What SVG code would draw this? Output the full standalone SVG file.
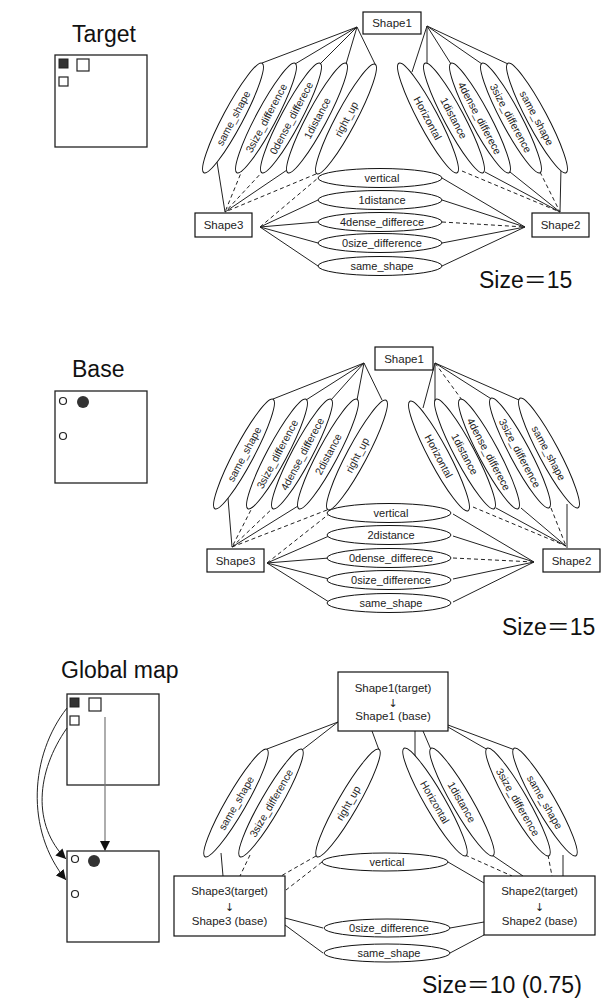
<svg xmlns="http://www.w3.org/2000/svg" width="603" height="998" viewBox="0 0 603 998">
<style>
.t{font-family:"Liberation Sans",Arial,"Noto Sans CJK JP",sans-serif;fill:#222}
.title{font-size:23px;fill:#111}
.lbl{font-size:10.5px;text-anchor:middle;dominant-baseline:central}
.hl{font-size:11px;text-anchor:middle;dominant-baseline:central}
.sh{font-size:11.5px;text-anchor:middle}
.gs{font-size:11.5px;text-anchor:middle}
.ar{font-family:"DejaVu Sans",sans-serif;font-size:11px;text-anchor:middle;fill:#222}
.box{fill:#fff;stroke:#111;stroke-width:1.2}
.el{fill:#fff;stroke:#111;stroke-width:1}
.c{stroke:#222;stroke-width:1;fill:none}
.d{stroke-dasharray:4 3}
.fr{fill:#fff;stroke:#222;stroke-width:1.3}
</style>
<defs>
<marker id="ah" viewBox="0 0 10 10" refX="10" refY="5" markerWidth="10" markerHeight="10" markerUnits="userSpaceOnUse" orient="auto"><path d="M0,0 L10,5 L0,10 z" fill="#111"/></marker>
</defs>
<rect width="603" height="998" fill="#fff"/>

<!-- ===== Section 1: Target ===== -->
<g id="target-pic">
<text class="t title" x="72" y="42">Target</text>
<rect class="fr" x="55" y="55" width="92" height="92"/>
<rect x="59" y="59" width="9" height="9" fill="#333" stroke="#222"/>
<rect x="77" y="59" width="12" height="12" fill="#fff" stroke="#222" stroke-width="1.2"/>
<rect x="59" y="77" width="9" height="9" fill="#fff" stroke="#222" stroke-width="1.2"/>
</g>

<g id="t-connectors">
<line class="c" x1="357" y1="27" x2="262" y2="63"/>
<line class="c" x1="357" y1="27" x2="295" y2="64"/>
<line class="c" x1="357" y1="27" x2="320" y2="64"/>
<line class="c" x1="357" y1="27" x2="346" y2="64"/>
<line class="c" x1="357" y1="27" x2="375" y2="64"/>
<line class="c" x1="217" y1="162" x2="225" y2="212"/>
<line class="c d" x1="243" y1="168" x2="225" y2="212"/>
<line class="c d" x1="264" y1="170" x2="225" y2="212"/>
<line class="c" x1="287" y1="170" x2="225" y2="212"/>
<line class="c d" x1="316" y1="174" x2="225" y2="212"/>
<line class="c d" x1="260" y1="227" x2="318" y2="178"/>
<line class="c" x1="260" y1="227" x2="318" y2="200"/>
<line class="c" x1="260" y1="227" x2="318" y2="222"/>
<line class="c" x1="260" y1="227" x2="318" y2="243"/>
<line class="c" x1="260" y1="227" x2="318" y2="266"/>
<line class="c" x1="442" y1="178" x2="525" y2="227"/>
<line class="c" x1="442" y1="200" x2="525" y2="227"/>
<line class="c d" x1="442" y1="222" x2="525" y2="227"/>
<line class="c" x1="442" y1="243" x2="525" y2="227"/>
<line class="c" x1="442" y1="266" x2="525" y2="227"/>
<line class="c" x1="427" y1="26" x2="412" y2="72"/>
<line class="c" x1="427" y1="26" x2="427" y2="66"/>
<line class="c" x1="427" y1="26" x2="451" y2="64"/>
<line class="c" x1="427" y1="26" x2="482" y2="64"/>
<line class="c" x1="427" y1="26" x2="508" y2="64"/>
<line class="c d" x1="462" y1="171" x2="560" y2="212"/>
<line class="c" x1="485" y1="172" x2="560" y2="212"/>
<line class="c" x1="510" y1="172" x2="560" y2="212"/>
<line class="c d" x1="540" y1="172" x2="560" y2="212"/>
<line class="c" x1="561" y1="168" x2="560" y2="212"/>
</g>

<g id="t-shape1"><rect class="box" x="363" y="12" width="58" height="22"/><text class="t sh" x="392" y="27">Shape1</text></g>
<g id="t-shape3"><rect class="box" x="195" y="213" width="57" height="24"/><text class="t sh" x="223.5" y="229">Shape3</text></g>
<g id="t-shape2"><rect class="box" x="532" y="213" width="57" height="24"/><text class="t sh" x="560.5" y="229">Shape2</text></g>

<g id="t-l1" transform="translate(233,118) rotate(-62)"><ellipse class="el" rx="62" ry="10"/><text class="t lbl">same_shape</text></g>
<g id="t-l2" transform="translate(266,118) rotate(-62)"><ellipse class="el" rx="62" ry="10"/><text class="t lbl">3size_difference</text></g>
<g id="t-l3" transform="translate(291,118) rotate(-62)"><ellipse class="el" rx="62" ry="10"/><text class="t lbl">0dense_differece</text></g>
<g id="t-l4" transform="translate(317,118) rotate(-62)"><ellipse class="el" rx="62" ry="10"/><text class="t lbl">1distance</text></g>
<g id="t-l5" transform="translate(346,119) rotate(-62)"><ellipse class="el" rx="62" ry="10"/><text class="t lbl">right_up</text></g>

<g id="t-r1" transform="translate(428,118) rotate(62)"><ellipse class="el" rx="62" ry="10"/><text class="t lbl">Horizontal</text></g>
<g id="t-r2" transform="translate(454,118) rotate(62)"><ellipse class="el" rx="62" ry="10"/><text class="t lbl">1distance</text></g>
<g id="t-r3" transform="translate(480,118) rotate(62)"><ellipse class="el" rx="62" ry="10"/><text class="t lbl">4dense_differece</text></g>
<g id="t-r4" transform="translate(511,118) rotate(62)"><ellipse class="el" rx="62" ry="10"/><text class="t lbl">3size_difference</text></g>
<g id="t-r5" transform="translate(537,118) rotate(62)"><ellipse class="el" rx="62" ry="10"/><text class="t lbl">same_shape</text></g>

<g id="t-h1"><ellipse class="el" cx="380" cy="178" rx="62" ry="9.5"/><text class="t hl" x="382" y="178">vertical</text></g>
<g id="t-h2"><ellipse class="el" cx="380" cy="200" rx="62" ry="9.5"/><text class="t hl" x="382" y="200">1distance</text></g>
<g id="t-h3"><ellipse class="el" cx="380" cy="222" rx="62" ry="9.5"/><text class="t hl" x="382" y="222">4dense_differece</text></g>
<g id="t-h4"><ellipse class="el" cx="380" cy="243" rx="62" ry="9.5"/><text class="t hl" x="382" y="243">0size_difference</text></g>
<g id="t-h5"><ellipse class="el" cx="380" cy="266" rx="62" ry="9.5"/><text class="t hl" x="382" y="266">same_shape</text></g>

<text class="t title" x="479" y="288">Size＝15</text>

<!-- ===== Section 2: Base ===== -->
<g id="base-pic">
<text class="t title" x="72" y="377">Base</text>
<rect class="fr" x="55" y="391" width="92" height="92"/>
<circle cx="63" cy="401" r="3.5" fill="#fff" stroke="#222" stroke-width="1.2"/>
<circle cx="83" cy="402" r="6" fill="#333"/>
<circle cx="63" cy="436" r="3.5" fill="#fff" stroke="#222" stroke-width="1.2"/>
</g>

<g transform="translate(11,336)">
<g id="b-connectors">
<line class="c" x1="353" y1="27" x2="262" y2="63"/>
<line class="c" x1="353" y1="27" x2="295" y2="64"/>
<line class="c" x1="353" y1="27" x2="320" y2="64"/>
<line class="c" x1="353" y1="27" x2="346" y2="64"/>
<line class="c" x1="353" y1="27" x2="371" y2="64"/>
<line class="c" x1="217" y1="162" x2="221" y2="211"/>
<line class="c d" x1="243" y1="168" x2="221" y2="211"/>
<line class="c d" x1="264" y1="170" x2="221" y2="211"/>
<line class="c" x1="287" y1="170" x2="221" y2="211"/>
<line class="c d" x1="316" y1="174" x2="221" y2="211"/>
<line class="c d" x1="256" y1="227" x2="318" y2="178"/>
<line class="c" x1="256" y1="227" x2="318" y2="200"/>
<line class="c" x1="256" y1="227" x2="318" y2="222"/>
<line class="c" x1="256" y1="227" x2="318" y2="243"/>
<line class="c" x1="256" y1="227" x2="318" y2="266"/>
<line class="c" x1="442" y1="178" x2="523" y2="226"/>
<line class="c" x1="442" y1="200" x2="523" y2="226"/>
<line class="c d" x1="442" y1="222" x2="523" y2="226"/>
<line class="c" x1="442" y1="243" x2="523" y2="226"/>
<line class="c" x1="442" y1="266" x2="523" y2="226"/>
<line class="c" x1="424" y1="27" x2="412" y2="72"/>
<line class="c" x1="424" y1="27" x2="424" y2="66"/>
<line class="c d" x1="424" y1="27" x2="451" y2="64"/>
<line class="c" x1="424" y1="27" x2="482" y2="64"/>
<line class="c" x1="424" y1="27" x2="508" y2="64"/>
<line class="c d" x1="462" y1="171" x2="555" y2="210"/>
<line class="c" x1="485" y1="172" x2="555" y2="210"/>
<line class="c" x1="510" y1="172" x2="555" y2="210"/>
<line class="c d" x1="540" y1="172" x2="555" y2="210"/>
<line class="c" x1="556" y1="168" x2="556" y2="212"/>
</g>

<g id="b-shape1"><rect class="box" x="364" y="11" width="58" height="23"/><text class="t sh" x="393" y="27">Shape1</text></g>
<g id="b-shape3"><rect class="box" x="196" y="213" width="57" height="23"/><text class="t sh" x="224.5" y="229">Shape3</text></g>
<g id="b-shape2"><rect class="box" x="532" y="213" width="57" height="23"/><text class="t sh" x="560.5" y="229">Shape2</text></g>

<g id="b-l1" transform="translate(233,118) rotate(-62)"><ellipse class="el" rx="62" ry="10"/><text class="t lbl">same_shape</text></g>
<g id="b-l2" transform="translate(266,118) rotate(-62)"><ellipse class="el" rx="62" ry="10"/><text class="t lbl">3size_difference</text></g>
<g id="b-l3" transform="translate(291,118) rotate(-62)"><ellipse class="el" rx="62" ry="10"/><text class="t lbl">4dense_differece</text></g>
<g id="b-l4" transform="translate(317,118) rotate(-62)"><ellipse class="el" rx="62" ry="10"/><text class="t lbl">2distance</text></g>
<g id="b-l5" transform="translate(346,119) rotate(-62)"><ellipse class="el" rx="62" ry="10"/><text class="t lbl">right_up</text></g>

<g id="b-r1" transform="translate(428,120) rotate(62)"><ellipse class="el" rx="62" ry="10"/><text class="t lbl">Horizontal</text></g>
<g id="b-r2" transform="translate(454,118) rotate(62)"><ellipse class="el" rx="62" ry="10"/><text class="t lbl">1distance</text></g>
<g id="b-r3" transform="translate(478,118) rotate(62)"><ellipse class="el" rx="62" ry="10"/><text class="t lbl">4dense_differece</text></g>
<g id="b-r4" transform="translate(509,117) rotate(62)"><ellipse class="el" rx="62" ry="10"/><text class="t lbl">3size_difference</text></g>
<g id="b-r5" transform="translate(538,117) rotate(62)"><ellipse class="el" rx="62" ry="10"/><text class="t lbl">same_shape</text></g>

<g id="b-h1"><ellipse class="el" cx="378" cy="177" rx="62" ry="9.5"/><text class="t hl" x="380" y="177">vertical</text></g>
<g id="b-h2"><ellipse class="el" cx="378" cy="199" rx="62" ry="9.5"/><text class="t hl" x="380" y="199">2distance</text></g>
<g id="b-h3"><ellipse class="el" cx="378" cy="222" rx="62" ry="9.5"/><text class="t hl" x="380" y="222">0dense_differece</text></g>
<g id="b-h4"><ellipse class="el" cx="378" cy="244" rx="62" ry="9.5"/><text class="t hl" x="380" y="244">0size_difference</text></g>
<g id="b-h5"><ellipse class="el" cx="378" cy="267" rx="62" ry="9.5"/><text class="t hl" x="380" y="267">same_shape</text></g>
</g>

<text class="t title" x="502" y="635">Size＝15</text>

<!-- ===== Section 3: Global map ===== -->
<g id="global-pic">
<text class="t title" x="61" y="678">Global map</text>
<rect class="fr" x="67" y="694" width="92" height="91"/>
<rect x="70" y="698" width="9" height="9" fill="#333" stroke="#222"/>
<rect x="89" y="698" width="12" height="13" fill="#fff" stroke="#222" stroke-width="1.2"/>
<rect x="70" y="716" width="9" height="9" fill="#fff" stroke="#222" stroke-width="1.2"/>
<rect class="fr" x="67" y="851" width="92" height="91"/>
<circle cx="75" cy="859" r="3.5" fill="#fff" stroke="#222" stroke-width="1.2"/>
<circle cx="94" cy="861" r="6" fill="#333"/>
<circle cx="75" cy="894" r="3.5" fill="#fff" stroke="#222" stroke-width="1.2"/>
</g>
<g id="global-arrows">
<line x1="105" y1="717" x2="105" y2="851" stroke="#777" stroke-width="1.2" marker-end="url(#ah)"/>
<path class="c" d="M67,708 C30,755 25,830 66,880" stroke-width="1.2" marker-end="url(#ah)"/>
<path class="c" d="M67,728 C36,772 32,825 66,859" stroke-width="1.2" marker-end="url(#ah)"/>
</g>

<g id="g-connectors">
<line class="c" x1="338" y1="722" x2="267" y2="749"/>
<line class="c" x1="338" y1="722" x2="302" y2="750"/>
<line class="c" x1="372" y1="731" x2="379" y2="750"/>
<line class="c" x1="221" y1="853" x2="223" y2="876"/>
<line class="c d" x1="250" y1="855" x2="240" y2="876"/>
<line class="c d" x1="316" y1="856" x2="281" y2="876"/>
<line class="c d" x1="322" y1="862" x2="286" y2="890"/>
<line class="c" x1="415" y1="731" x2="415" y2="758"/>
<line class="c" x1="423" y1="731" x2="432" y2="752"/>
<line class="c" x1="448" y1="727" x2="488" y2="750"/>
<line class="c" x1="448" y1="725" x2="515" y2="750"/>
<line class="c d" x1="465" y1="855" x2="512" y2="876"/>
<line class="c" x1="492" y1="855" x2="523" y2="876"/>
<line class="c d" x1="548" y1="855" x2="552" y2="876"/>
<line class="c" x1="563" y1="855" x2="563" y2="876"/>
<line class="c" x1="448" y1="862" x2="484" y2="883"/>
<line class="c" x1="323" y1="928" x2="285" y2="918"/>
<line class="c" x1="323" y1="953" x2="285" y2="925"/>
<line class="c" x1="450" y1="928" x2="484" y2="922"/>
<line class="c" x1="450" y1="953" x2="484" y2="935"/>
</g>

<g id="g-shape1"><rect class="box" x="338" y="672" width="110" height="59"/>
<text class="t gs" x="393" y="692">Shape1(target)</text><text class="ar" x="393" y="707">↓</text><text class="t gs" x="393" y="720">Shape1 (base)</text></g>
<g id="g-shape3"><rect class="box" x="174" y="876" width="111" height="60"/>
<text class="t gs" x="229.5" y="895">Shape3(target)</text><text class="ar" x="229.5" y="911">↓</text><text class="t gs" x="229.5" y="925">Shape3 (base)</text></g>
<g id="g-shape2"><rect class="box" x="484" y="876" width="111" height="59"/>
<text class="t gs" x="539.5" y="895">Shape2(target)</text><text class="ar" x="539.5" y="911">↓</text><text class="t gs" x="539.5" y="925">Shape2 (base)</text></g>

<g id="g-l1" transform="translate(236,803) rotate(-60)"><ellipse class="el" rx="62" ry="10"/><text class="t lbl">same_shape</text></g>
<g id="g-l2" transform="translate(271,803) rotate(-60)"><ellipse class="el" rx="62" ry="10"/><text class="t lbl">3size_difference</text></g>
<g id="g-l3" transform="translate(348,803) rotate(-60)"><ellipse class="el" rx="62" ry="10"/><text class="t lbl">right_up</text></g>

<g id="g-r1" transform="translate(435,802) rotate(60)"><ellipse class="el" rx="62" ry="10"/><text class="t lbl">Horizontal</text></g>
<g id="g-r2" transform="translate(462,802) rotate(60)"><ellipse class="el" rx="62" ry="10"/><text class="t lbl">1distance</text></g>
<g id="g-r3" transform="translate(518,802) rotate(60)"><ellipse class="el" rx="62" ry="10"/><text class="t lbl">3size_difference</text></g>
<g id="g-r4" transform="translate(545,802) rotate(60)"><ellipse class="el" rx="62" ry="10"/><text class="t lbl">same_shape</text></g>

<g id="g-h1"><ellipse class="el" cx="385" cy="862" rx="63" ry="9"/><text class="t hl" x="387" y="862">vertical</text></g>
<g id="g-h2"><ellipse class="el" cx="387" cy="928" rx="63" ry="9"/><text class="t hl" x="389" y="928">0size_difference</text></g>
<g id="g-h3"><ellipse class="el" cx="387" cy="953" rx="63" ry="9"/><text class="t hl" x="389" y="953">same_shape</text></g>

<text class="t title" x="422" y="993">Size＝10 (0.75)</text>
</svg>
